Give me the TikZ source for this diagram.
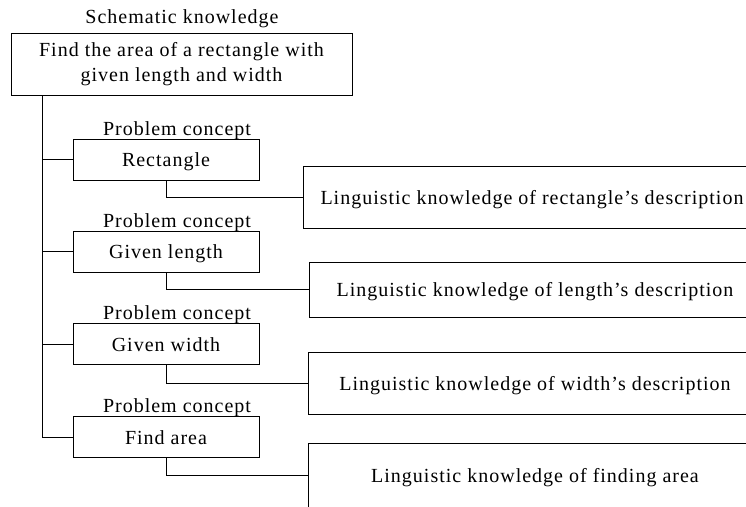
\documentclass[tikz,border=0pt]{standalone}
\usepackage{fontspec}
\setmainfont[LetterSpace=5]{Liberation Serif}
\begin{document}
\begin{tikzpicture}[x=1pt,y=1pt,
  line width=0.9pt,
  every node/.style={font=\fontsize{20}{25}\selectfont},
  boxstyle/.style={draw, rectangle, inner sep=0pt, text height=14pt, text depth=0pt},
  conceptbox/.style={boxstyle, minimum width=186pt, minimum height=41pt},
  lingbox/.style={boxstyle, minimum height=62pt},
  lbl/.style={anchor=base, inner sep=0pt},
  link/.style={draw, line width=0.9pt}
]
\useasboundingbox (0,0) rectangle (746,-506);
\clip (0,0) rectangle (746,-506);

% schematic knowledge
\node[lbl] (sklabel) at (182,-23) {Schematic knowledge};
\node[draw, rectangle, inner sep=0pt, minimum width=341pt, minimum height=62pt, align=center]
  (top) at (181.5,-64) {Find the area of a rectangle with\\given length and width};

% problem concepts
\node[conceptbox] (c1) at (166,-159.5) {Rectangle};
\node[conceptbox] (c2) at (166,-251.5) {Given length};
\node[conceptbox] (c3) at (166,-344) {Given width};
\node[conceptbox] (c4) at (166,-437) {Find area};

\node[lbl] (p1) at (177,-135) {Problem concept};
\node[lbl] (p2) at (177,-227) {Problem concept};
\node[lbl] (p3) at (177,-319.5) {Problem concept};
\node[lbl] (p4) at (177,-412.5) {Problem concept};

% linguistic knowledge boxes
\node[lingbox, minimum width=458pt] (k1) at (532,-197)
  {Linguistic knowledge of rectangle’s description};
\node[lingbox, minimum width=452pt, minimum height=55pt] (k2) at (535,-289.5)
  {Linguistic knowledge of length’s description};
\node[lingbox, minimum width=454pt] (k3) at (535,-383)
  {Linguistic knowledge of width’s description};
\node[lingbox, minimum width=454pt, minimum height=64pt] (k4) at (535,-475.5)
  {Linguistic knowledge of finding area};

% trunk
\coordinate (trunk) at (42,-95);
\draw[link] (trunk) |- (c4.west);
\draw[link] (trunk |- c1.west) -- (c1.west);
\draw[link] (trunk |- c2.west) -- (c2.west);
\draw[link] (trunk |- c3.west) -- (c3.west);

% branches
\draw[link] (c1.south) |- (k1.west);
\draw[link] (c2.south) |- (k2.west);
\draw[link] (c3.south) |- (k3.west);
\draw[link] (c4.south) |- (k4.west);
\end{tikzpicture}
\end{document}
